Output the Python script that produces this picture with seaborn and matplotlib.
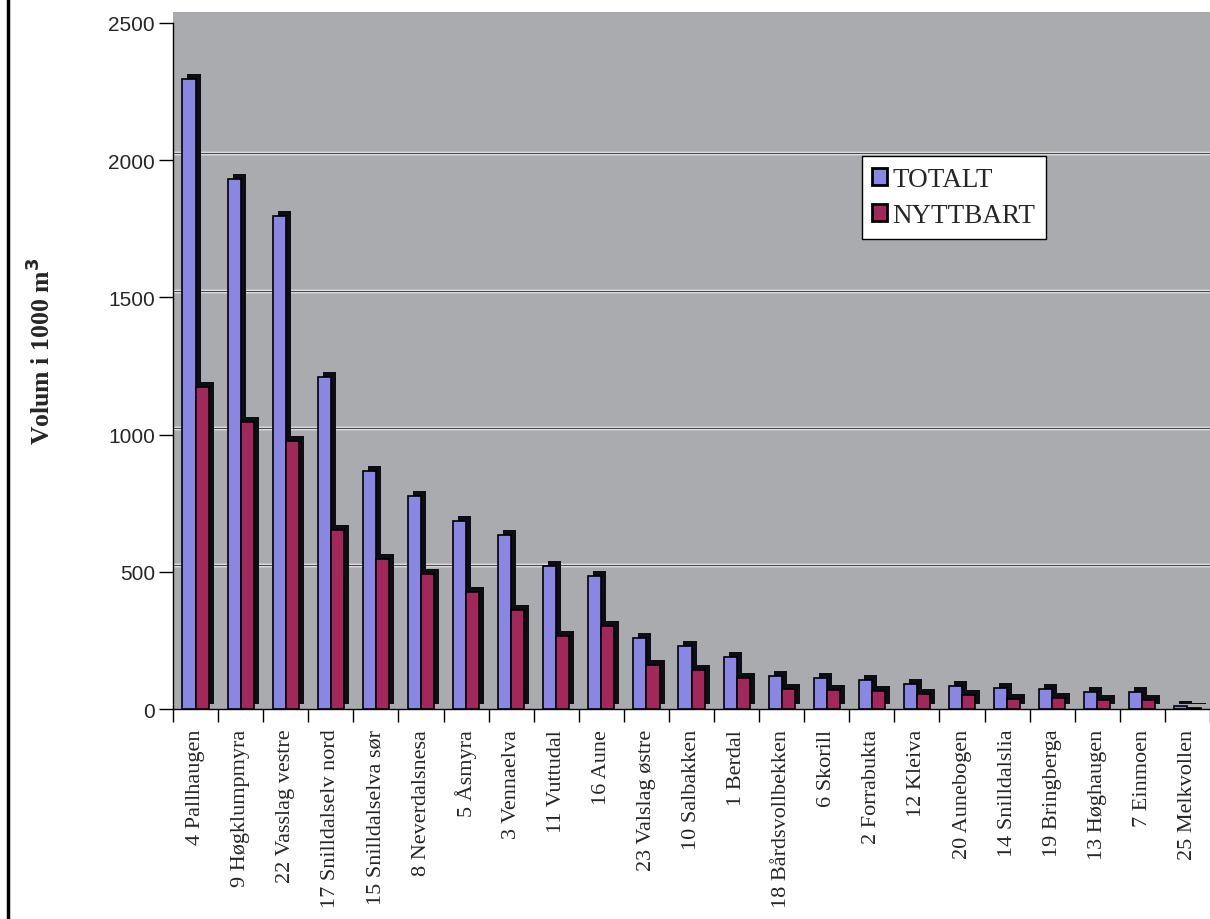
import numpy as np
import pandas as pd
import matplotlib
matplotlib.use("Agg")
import matplotlib.pyplot as plt
import matplotlib.patheffects as pe
from matplotlib.lines import Line2D
import seaborn as sns

categories = ["4 Pallhaugen", "9 Høgklumpmyra", "22 Vasslag vestre", "17 Snilldalselv nord",
              "15 Snilldalselva sør", "8 Neverdalsnesa", "5 Åsmyra", "3 Vennaelva",
              "11 Vuttudal", "16 Aune", "23 Valslag østre", "10 Salbakken", "1 Berdal",
              "18 Bårdsvollbekken", "6 Skorill", "2 Forrabukta", "12 Kleiva", "20 Aunebogen",
              "14 Snilldalslia", "19 Bringberga", "13 Høghaugen", "7 Einmoen", "25 Melkvollen"]
totalt = [2295, 1930, 1796, 1209, 867, 777, 684, 635, 522, 485, 259, 232, 190,
          120, 114, 108, 92, 84, 78, 74, 63, 62, 13]
nyttbart = [1174, 1047, 977, 653, 548, 493, 427, 362, 266, 304, 162, 144, 114,
            74, 71, 65, 57, 52, 38, 41, 35, 33, 5]
series = ["TOTALT", "NYTTBART"]
y_ticks = [0, 500, 1000, 1500, 2000, 2500]

df = pd.DataFrame({
    "Anlegg": categories * 2,
    "Volum": totalt + nyttbart,
    "Serie": [series[0]] * len(categories) + [series[1]] * len(categories),
})

sns.set_theme(style="white")
plt.rcParams["font.family"] = ["Liberation Serif", "DejaVu Serif"]

fig = plt.figure(figsize=(12.1, 9.2), dpi=100)
ax = fig.add_axes([0.143, 0.228, 0.857, 0.758])
ax.set_facecolor("#a9abae")

palette = {"TOTALT": "#8a86e4", "NYTTBART": "#a2285c"}
sns.barplot(data=df, x="Anlegg", y="Volum", hue="Serie", order=categories,
            hue_order=series, palette=palette, width=0.58, gap=0,
            edgecolor="black", linewidth=1.2, saturation=1, ax=ax, zorder=3)

for cont in ax.containers:
    for p in cont:
        p.set_path_effects([pe.SimplePatchShadow(offset=(3.6, 3.6), shadow_rgbFace="#0d0d14", alpha=1.0),
                            pe.Normal()])

ax.set_ylim(0, 2540)
ax.set_xlim(-0.5, len(categories) - 0.5)
ax.set_yticks(y_ticks)
ax.set_yticklabels([str(v) for v in y_ticks], fontsize=15, family="Liberation Sans")
for v in y_ticks[1:-1]:
    ax.axhline(v + 25, color="white", lw=2.5, zorder=1)
    ax.axhline(v + 25, color="#4a4a4a", lw=1.0, zorder=1.5)

ax.set_xticks(range(len(categories)))
ax.set_xticklabels(categories, rotation=90, fontsize=16)
ax.set_xticks(np.arange(-0.5, len(categories), 1), minor=True)
ax.tick_params(axis="x", which="major", length=0, pad=14)
ax.tick_params(axis="x", which="minor", length=9, width=1, color="black", direction="out", bottom=True)
ax.tick_params(axis="y", length=10, width=1, color="black", direction="out", left=True, pad=3)

for s in ["top", "right"]:
    ax.spines[s].set_visible(False)
ax.spines["left"].set_bounds(0, 2500)
ax.spines["left"].set_color("black")
ax.spines["bottom"].set_color("black")
ax.spines["left"].set_linewidth(1)
ax.spines["bottom"].set_linewidth(1)

ax.set_xlabel("")
ax.set_ylabel("Volum i 1000 m$^\\mathbf{3}$", fontsize=18.5, fontweight="bold")
ax.yaxis.set_label_coords(-0.114, 0.515)

handles, labels = ax.get_legend_handles_labels()
if ax.get_legend() is not None:
    ax.get_legend().remove()
leg = fig.legend(handles, labels, loc="upper left", bbox_to_anchor=(0.712, 0.829),
                 fontsize=19.5, frameon=True, fancybox=False, edgecolor="black",
                 framealpha=1, borderpad=0.4, handlelength=0.55, handleheight=0.55,
                 handletextpad=0.2, labelspacing=0.4, borderaxespad=0)
for h in leg.legend_handles:
    h.set_edgecolor("black")
    h.set_linewidth(2)
leg.get_frame().set_linewidth(1.0)

fig.add_artist(Line2D([0.007, 0.007], [0, 1], transform=fig.transFigure, color="black", lw=2.5))

fig.savefig("out.png", dpi=100)
